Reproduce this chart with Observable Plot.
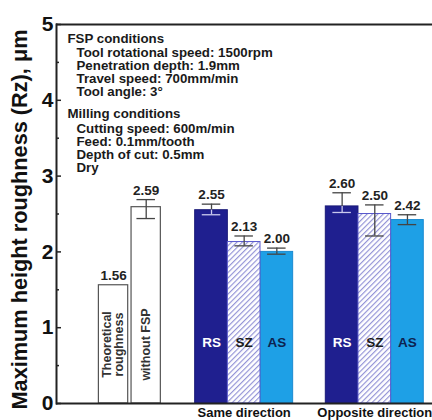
<!DOCTYPE html>
<html><head><meta charset="utf-8">
<script src="https://cdn.jsdelivr.net/npm/d3@7"></script>
<script src="https://cdn.jsdelivr.net/npm/@observablehq/plot@0.6"></script>
<style>
html,body{margin:0;padding:0;background:#fff;overflow:hidden}
</style></head><body><div id="chart"></div>
<script>
// ---- data ----
const xDomain = ["T","W","gap1","S-RS","S-SZ","S-AS","gap2","O-RS","O-SZ","O-AS"];
const barKeys = ["T","W","S-RS","S-SZ","S-AS","O-RS","O-SZ","O-AS"];
const barValues = [1.56, 2.59, 2.55, 2.13, 2.00, 2.60, 2.50, 2.42];
const errLow  = [null, 2.44, 2.49, 2.08, 1.97, 2.52, 2.21, 2.36];
const errHigh = [null, 2.69, 2.63, 2.21, 2.05, 2.78, 2.62, 2.49];
const zoneOf  = [null, null, "RS","SZ","AS","RS","SZ","AS"];
const controlLabels = ["Theoretical\nroughness", "without FSP"];
const groupNames = ["Same direction", "Opposite direction"];
const groupCenters = ["S-SZ", "O-SZ"];
const yMajor = [0,1,2,3,4,5];
const yMinor = [0.5,1.5,2.5,3.5,4.5];
const yTitle = "Maximum height roughness (Rz), μm";
const fspHead = "FSP conditions";
const fspLines = ["Tool rotational speed: 1500rpm","Penetration depth: 1.9mm","Travel speed: 700mm/min","Tool angle: 3°"];
const millHead = "Milling conditions";
const millLines = ["Cutting speed: 600m/min","Feed: 0.1mm/tooth","Depth of cut: 0.5mm","Dry"];

const rows = barKeys.map((k,i)=>({key:k, value:barValues[i], low:errLow[i], high:errHigh[i], zone:zoneOf[i]}));
const ctrl = rows.filter(d=>!d.zone);
const errs = rows.filter(d=>d.low!=null);
const zoneFill = {RS:"#1f1f8f", SZ:"url(#hatch)", AS:"#1ea0e6"};
const zoneStroke = {RS:"#1a1a78", SZ:"#5858cc", AS:"#1a8ad0"};
const zoneText = {RS:"#ffffff", SZ:"#1a1a1a", AS:"#0d2350"};
const innerErr = d => d.zone === "RS" ? "#c9c9ee" : "#444";

const font = "'Liberation Sans', Arial, Helvetica, sans-serif";
const bold = {fontWeight: "bold"};

const zoneBars = z => Plot.barY(rows.filter(d=>d.zone===z), {
  x: "key", y: "value", fill: zoneFill[z], stroke: zoneStroke[z], strokeWidth: 1,
  insetLeft: -1.08, insetRight: -1.08
});

const condText = (t, dx, dy) => Plot.text([t], {frameAnchor: "top-left", dx, dy, lineAnchor: "top", textAnchor: "start", fontSize: 13.3, ...bold, fill: "#1a1a1a"});
const condMarks = [
  condText(fspHead, 11, 9),
  ...fspLines.map((t,i) => condText(t, 20, 23 + 13*i)),
  condText(millHead, 11, 84),
  ...millLines.map((t,i) => condText(t, 20, 99 + 13*i))
];

const chart = Plot.plot({
  width: 432, height: 420,
  marginLeft: 56, marginRight: 0, marginTop: 24, marginBottom: 17,
  style: {fontFamily: font, background: "white", color: "#111", overflow: "visible"},
  x: {type: "band", domain: xDomain, paddingInner: 0.066, paddingOuter: 0.79, align: 0.81, round: false, axis: null},
  y: {domain: [0,5], axis: null},
  color: {type: "identity"},
  marks: [
    Plot.barY(ctrl, {x: "key", y: "value", fill: "white", stroke: "#555", strokeWidth: 1.2, insetLeft: 0.6, insetRight: 0.6}),
    zoneBars("RS"), zoneBars("AS"), zoneBars("SZ"),
    // error bars
    Plot.ruleX(errs, {x: "key", y1: "value", y2: "high", stroke: "#444", strokeWidth: 1.3}),
    Plot.ruleX(errs, {x: "key", y1: "low", y2: "value", stroke: innerErr, strokeWidth: 1.3}),
    Plot.tickY(errs, {x: "key", y: "high", stroke: "#444", strokeWidth: 1.3, insetLeft: 6, insetRight: 6}),
    Plot.tickY(errs, {x: "key", y: "low", stroke: innerErr, strokeWidth: 1.3, insetLeft: 6, insetRight: 6}),
    // value labels
    Plot.text(rows, {x: "key", y: d => d.high ?? d.value, text: d => d.value.toFixed(2), dy: -5, lineAnchor: "bottom", fontSize: 13.5, ...bold, fill: "#222"}),
    // in-bar zone labels
    Plot.text(rows.filter(d=>d.zone), {x: "key", frameAnchor: "bottom", dy: -61, text: "zone", fill: d => zoneText[d.zone], fontSize: 13.5, ...bold, lineAnchor: "middle"}),
    // rotated control labels
    Plot.text(ctrl, {x: "key", frameAnchor: "bottom", dy: -59, text: (d,i) => controlLabels[i], rotate: -90, fontSize: 12.5, ...bold, fill: "#333", lineHeight: 0.95, lineAnchor: "middle", textAnchor: "middle"}),
    // group labels
    Plot.text(groupNames, {x: (d,i) => groupCenters[i], frameAnchor: "bottom", dy: 4, lineAnchor: "top", fontSize: 13, ...bold, fill: "#111"}),
    // conditions text
    ...condMarks,
    // axes
    Plot.ruleY([0, 5], {stroke: "#222", strokeWidth: 2}),
    Plot.frame({anchor: "left", stroke: "#222", strokeWidth: 2}),
    Plot.axisY(yMajor, {tickSize: -5, tickFormat: () => "", label: null, stroke: "#222", strokeWidth: 1.5}),
    Plot.axisY(yMinor, {tickSize: -3, tickFormat: () => "", label: null, stroke: "#222", strokeWidth: 1.5}),
    Plot.axisY(yMajor, {tickSize: 0, tickPadding: 3, tickFormat: d3.format("d"), fontSize: 21, ...bold, label: null, fill: "#111"}),
    Plot.text([yTitle], {frameAnchor: "left", dx: -37, dy: 5.5, rotate: -90, fontSize: 22, ...bold, fill: "#111", lineAnchor: "middle", textAnchor: "middle"})
  ]
});

// hatch pattern for SZ bars
const defs = d3.select(chart).insert("defs", ":first-child");
const pat = defs.append("pattern").attr("id", "hatch").attr("patternUnits", "userSpaceOnUse")
  .attr("width", 3.8).attr("height", 3.8).attr("patternTransform", "rotate(45)");
pat.append("rect").attr("width", 3.8).attr("height", 3.8).attr("fill", "white");
pat.append("line").attr("x1", 0.6).attr("y1", 0).attr("x2", 0.6).attr("y2", 3.8).attr("stroke", "#8c8cd4").attr("stroke-width", 1.1);

// condensed y title to fit like the reference
d3.select(chart).selectAll("text").filter(function() { return this.textContent === yTitle; })
  .attr("textLength", 380).attr("lengthAdjust", "spacingAndGlyphs");

document.getElementById("chart").append(chart);
</script></body></html>
